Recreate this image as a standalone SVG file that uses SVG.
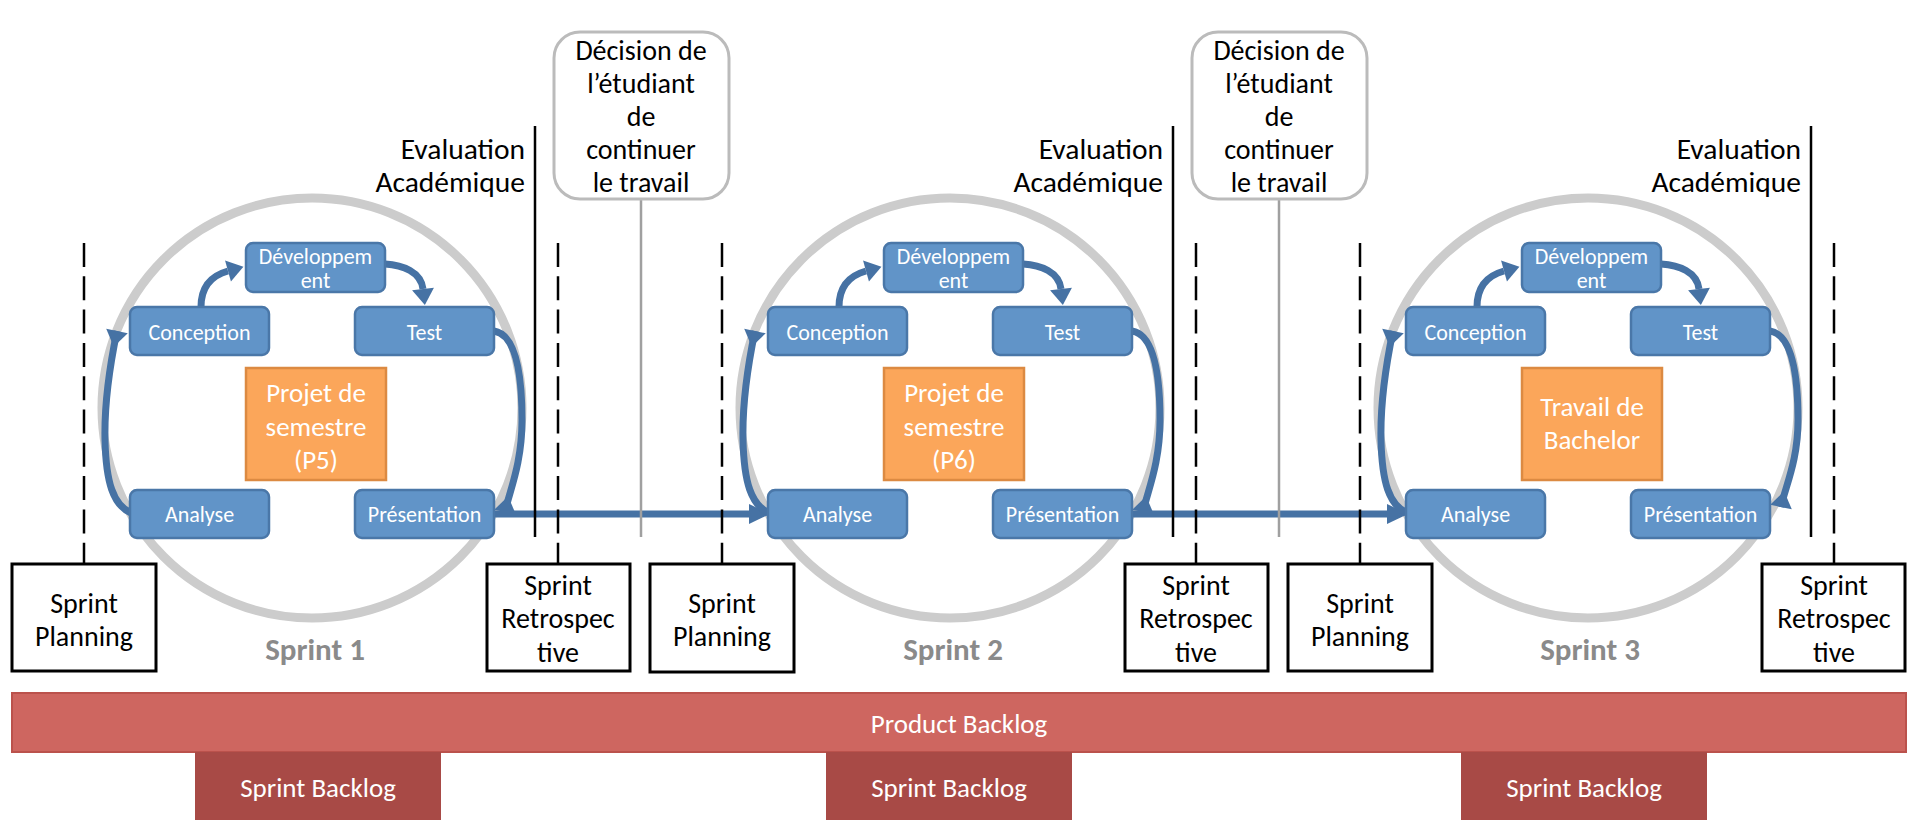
<svg xmlns="http://www.w3.org/2000/svg" width="1917" height="820" viewBox="0 0 1917 820">
<style>
.f{font-family:"Carlito","Liberation Sans Narrow","Liberation Sans",sans-serif}
.circ{fill:none;stroke:#cccccc;stroke-width:9}
.bb{fill:#6194c8;stroke:#4a77a8;stroke-width:2.5}
.bt{font-size:22px;fill:#ffffff;text-anchor:middle}
.ob{fill:#fba65a;stroke:#dc8a42;stroke-width:2.5}
.ot{font-size:27px;fill:#ffffff;text-anchor:middle}
.arr{fill:none;stroke:#4672a4;stroke-width:7}
.wb{fill:#ffffff;stroke:#000000;stroke-width:3}
.bk{font-size:28px;fill:#000000;text-anchor:middle}
.dash{stroke:#000000;stroke-width:2.5;stroke-dasharray:24 9.3}
.ev{font-size:29.5px;fill:#000000;text-anchor:end}
.evl{stroke:#000000;stroke-width:2.5}
.db{fill:#ffffff;stroke:#bbbbbb;stroke-width:3}
.dl{stroke:#a0a0a0;stroke-width:2.5}
.sl{font-size:31px;font-weight:bold;fill:#8a8a8a;text-anchor:middle}
.pb{fill:#ce6660;stroke:#bb524c;stroke-width:2}
.sb{fill:#a84a46}
.wt{font-size:27px;fill:#ffffff;text-anchor:middle}
</style>
<defs>
<marker id="ah" markerUnits="userSpaceOnUse" markerWidth="18" markerHeight="22" refX="0" refY="11" orient="auto" overflow="visible"><path d="M0,0 L16,11 L0,22 z" fill="#4672a4"/></marker>
<marker id="ahL" markerUnits="userSpaceOnUse" markerWidth="22" markerHeight="20" refX="0" refY="10" orient="auto" overflow="visible"><path d="M0,0 L21,10 L0,20 z" fill="#4672a4"/></marker>
</defs>
<rect width="1917" height="820" fill="#ffffff"/>

<g id="cycles">
<circle class="circ" cx="312" cy="408" r="210"/>
<circle class="circ" cx="950" cy="408" r="210"/>
<circle class="circ" cx="1588" cy="408" r="210"/>
</g>

<g id="connectors">
<g id="c-s1">
<path class="arr" d="M117,331 C112,355 104,395 105,440 C106,482 113,505 131,513" marker-start="url(#ah)"/>
<path class="arr" d="M201,307 C201,288 210,276 228,271" marker-end="url(#ah)"/>
<path class="arr" d="M385,264 C403,265 421,272 423,289" marker-end="url(#ah)"/>
<path class="arr" d="M505,512 C509,492 522,465 522,420 C522,365 513,334 494,331" marker-start="url(#ah)"/>
<path class="arr" d="M494,514 L749,514" marker-end="url(#ahL)"/>
</g>
<g id="c-s2" transform="translate(638,0)">
<path class="arr" d="M117,331 C112,355 104,395 105,440 C106,482 113,505 131,513" marker-start="url(#ah)"/>
<path class="arr" d="M201,307 C201,288 210,276 228,271" marker-end="url(#ah)"/>
<path class="arr" d="M385,264 C403,265 421,272 423,289" marker-end="url(#ah)"/>
<path class="arr" d="M505,512 C509,492 522,465 522,420 C522,365 513,334 494,331" marker-start="url(#ah)"/>
<path class="arr" d="M494,514 L749,514" marker-end="url(#ahL)"/>
</g>
<g id="c-s3" transform="translate(1276,0)">
<path class="arr" d="M117,331 C112,355 104,395 105,440 C106,482 113,505 131,513" marker-start="url(#ah)"/>
<path class="arr" d="M201,307 C201,288 210,276 228,271" marker-end="url(#ah)"/>
<path class="arr" d="M385,264 C403,265 421,272 423,289" marker-end="url(#ah)"/>
<path class="arr" d="M505,507 C509,487 522,462 522,420 C522,365 513,334 494,331" marker-start="url(#ah)"/>
</g>
</g>

<g id="sprint1" class="f">
<g id="s1-dev"><rect class="bb" x="246" y="243" width="139" height="49" rx="7"/><text class="bt" x="315.5" y="264">Développem</text><text class="bt" x="315.5" y="288">ent</text></g>
<g id="s1-conception"><rect class="bb" x="130" y="307" width="139" height="48" rx="7"/><text class="bt" x="199.5" y="340">Conception</text></g>
<g id="s1-test"><rect class="bb" x="355" y="307" width="139" height="48" rx="7"/><text class="bt" x="424.5" y="340">Test</text></g>
<g id="s1-analyse"><rect class="bb" x="130" y="490" width="139" height="48" rx="7"/><text class="bt" x="199.5" y="522">Analyse</text></g>
<g id="s1-presentation"><rect class="bb" x="355" y="490" width="139" height="48" rx="7"/><text class="bt" x="424.5" y="522">Présentation</text></g>
<g id="s1-projet"><rect class="ob" x="246" y="368" width="140" height="112"/><text class="ot" x="316" y="402">Projet de</text><text class="ot" x="316" y="436">semestre</text><text class="ot" x="316" y="469">(P5)</text></g>
<text class="sl" x="315" y="660">Sprint 1</text>
</g>

<g id="sprint2" class="f">
<g id="s2-dev"><rect class="bb" x="884" y="243" width="139" height="49" rx="7"/><text class="bt" x="953.5" y="264">Développem</text><text class="bt" x="953.5" y="288">ent</text></g>
<g id="s2-conception"><rect class="bb" x="768" y="307" width="139" height="48" rx="7"/><text class="bt" x="837.5" y="340">Conception</text></g>
<g id="s2-test"><rect class="bb" x="993" y="307" width="139" height="48" rx="7"/><text class="bt" x="1062.5" y="340">Test</text></g>
<g id="s2-analyse"><rect class="bb" x="768" y="490" width="139" height="48" rx="7"/><text class="bt" x="837.5" y="522">Analyse</text></g>
<g id="s2-presentation"><rect class="bb" x="993" y="490" width="139" height="48" rx="7"/><text class="bt" x="1062.5" y="522">Présentation</text></g>
<g id="s2-projet"><rect class="ob" x="884" y="368" width="140" height="112"/><text class="ot" x="954" y="402">Projet de</text><text class="ot" x="954" y="436">semestre</text><text class="ot" x="954" y="469">(P6)</text></g>
<text class="sl" x="953" y="660">Sprint 2</text>
</g>

<g id="sprint3" class="f">
<g id="s3-dev"><rect class="bb" x="1522" y="243" width="139" height="49" rx="7"/><text class="bt" x="1591.5" y="264">Développem</text><text class="bt" x="1591.5" y="288">ent</text></g>
<g id="s3-conception"><rect class="bb" x="1406" y="307" width="139" height="48" rx="7"/><text class="bt" x="1475.5" y="340">Conception</text></g>
<g id="s3-test"><rect class="bb" x="1631" y="307" width="139" height="48" rx="7"/><text class="bt" x="1700.5" y="340">Test</text></g>
<g id="s3-analyse"><rect class="bb" x="1406" y="490" width="139" height="48" rx="7"/><text class="bt" x="1475.5" y="522">Analyse</text></g>
<g id="s3-presentation"><rect class="bb" x="1631" y="490" width="139" height="48" rx="7"/><text class="bt" x="1700.5" y="522">Présentation</text></g>
<g id="s3-travail"><rect class="ob" x="1522" y="368" width="140" height="112"/><text class="ot" x="1592" y="416">Travail de</text><text class="ot" x="1592" y="449">Bachelor</text></g>
<text class="sl" x="1590" y="660">Sprint 3</text>
</g>

<g id="timeline">
<line class="dash" x1="84" y1="243" x2="84" y2="564"/>
<line class="dash" x1="558" y1="243" x2="558" y2="564"/>
<line class="dash" x1="722" y1="243" x2="722" y2="564"/>
<line class="dash" x1="1196" y1="243" x2="1196" y2="564"/>
<line class="dash" x1="1360" y1="243" x2="1360" y2="564"/>
<line class="dash" x1="1834" y1="243" x2="1834" y2="564"/>
<line class="evl" x1="535" y1="126" x2="535" y2="537"/>
<line class="evl" x1="1173" y1="126" x2="1173" y2="537"/>
<line class="evl" x1="1811" y1="126" x2="1811" y2="537"/>
<line class="dl" x1="641" y1="199" x2="641" y2="537"/>
<line class="dl" x1="1279" y1="199" x2="1279" y2="537"/>
</g>

<g id="evaluation" class="f">
<text class="ev" x="525" y="159">Evaluation</text><text class="ev" x="525" y="192">Académique</text>
<text class="ev" x="1163" y="159">Evaluation</text><text class="ev" x="1163" y="192">Académique</text>
<text class="ev" x="1801" y="159">Evaluation</text><text class="ev" x="1801" y="192">Académique</text>
</g>

<g id="decision1" class="f">
<rect class="db" x="554" y="32" width="175" height="167" rx="26"/>
<text class="bk" x="641" y="60" font-size="27">Décision de</text>
<text class="bk" x="641" y="93">l’étudiant</text>
<text class="bk" x="641" y="126">de</text>
<text class="bk" x="641" y="159">continuer</text>
<text class="bk" x="641" y="192">le travail</text>
</g>
<g id="decision2" class="f">
<rect class="db" x="1192" y="32" width="175" height="167" rx="26"/>
<text class="bk" x="1279" y="60">Décision de</text>
<text class="bk" x="1279" y="93">l’étudiant</text>
<text class="bk" x="1279" y="126">de</text>
<text class="bk" x="1279" y="159">continuer</text>
<text class="bk" x="1279" y="192">le travail</text>
</g>

<g id="planning1" class="f"><rect class="wb" x="12" y="564" width="144" height="107"/><text class="bk" x="84" y="613">Sprint</text><text class="bk" x="84" y="646">Planning</text></g>
<g id="retro1" class="f"><rect class="wb" x="487" y="564" width="143" height="107"/><text class="bk" x="558" y="595">Sprint</text><text class="bk" x="558" y="628">Retrospec</text><text class="bk" x="558" y="662">tive</text></g>
<g id="planning2" class="f"><rect class="wb" x="650" y="564" width="144" height="108"/><text class="bk" x="722" y="613">Sprint</text><text class="bk" x="722" y="646">Planning</text></g>
<g id="retro2" class="f"><rect class="wb" x="1125" y="564" width="143" height="107"/><text class="bk" x="1196" y="595">Sprint</text><text class="bk" x="1196" y="628">Retrospec</text><text class="bk" x="1196" y="662">tive</text></g>
<g id="planning3" class="f"><rect class="wb" x="1288" y="564" width="144" height="107"/><text class="bk" x="1360" y="613">Sprint</text><text class="bk" x="1360" y="646">Planning</text></g>
<g id="retro3" class="f"><rect class="wb" x="1762" y="564" width="143" height="107"/><text class="bk" x="1834" y="595">Sprint</text><text class="bk" x="1834" y="628">Retrospec</text><text class="bk" x="1834" y="662">tive</text></g>

<g id="product-backlog" class="f"><rect class="pb" x="12" y="693" width="1894" height="59"/><text class="wt" x="959" y="733">Product Backlog</text></g>
<g id="sprint-backlog1" class="f"><rect class="sb" x="195" y="752" width="246" height="70"/><text class="wt" x="318" y="797">Sprint Backlog</text></g>
<g id="sprint-backlog2" class="f"><rect class="sb" x="826" y="752" width="246" height="70"/><text class="wt" x="949" y="797">Sprint Backlog</text></g>
<g id="sprint-backlog3" class="f"><rect class="sb" x="1461" y="752" width="246" height="70"/><text class="wt" x="1584" y="797">Sprint Backlog</text></g>
</svg>
